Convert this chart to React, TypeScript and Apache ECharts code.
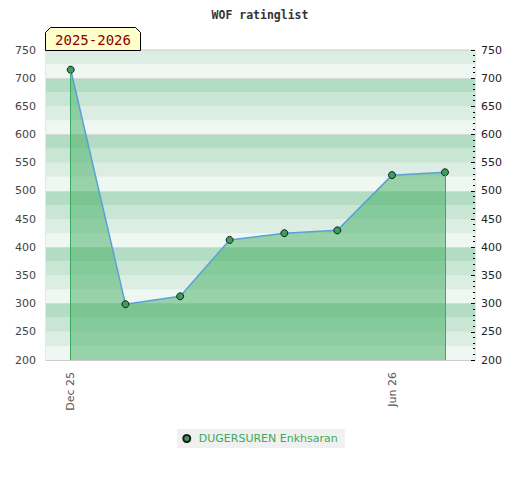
import React, { useEffect, useRef } from "react";
import * as echarts from "echarts";

const dates = ["2025-12-01", "2026-01-01", "2026-02-01", "2026-03-01", "2026-04-01", "2026-05-01", "2026-06-01", "2026-07-01"];
const ratings = [715, 299, 313, 413, 425, 430, 528, 533];
const xLabelDates = ["2025-12-01", "2026-06-01"];
const seriesName = "DUGERSUREN Enkhsaran";
const seasonLabel = "2025-2026";
const titleText = "WOF ratinglist";
const monthNames = ["Jan", "Feb", "Mar", "Apr", "May", "Jun", "Jul", "Aug", "Sep", "Oct", "Nov", "Dec"];

const toTs = (s: string) => {
  const [y, m, d] = s.split("-").map(Number);
  return Date.UTC(y, m - 1, d);
};

export default function App() {
  const ref = useRef<HTMLDivElement>(null);
  useEffect(() => {
    document.body.style.margin = "0";
    if (!ref.current) return;
    const chart = echarts.init(ref.current, undefined, { renderer: "svg" });
    const data = dates.map((d, i) => [toTs(d), ratings[i]]);
    const yMin = 200;
    const yMax = 750;
    const first = data[0];
    const last = data[data.length - 1];
    const axisFont = { fontFamily: "DejaVu Sans", fontSize: 11 };
    chart.setOption({
      animation: false,
      title: {
        text: titleText,
        left: "center",
        top: 4,
        textStyle: { fontFamily: "DejaVu Sans Mono", fontWeight: "bold", fontSize: 11.5, color: "#333" },
      },
      grid: { left: 46, right: 45, top: 50, bottom: 120, show: true, borderColor: "#ccc", borderWidth: 1 },
      legend: {
        top: 429,
        left: "center",
        backgroundColor: "#f0f0f0",
        padding: [4, 7, 4, 5],
        icon: "circle",
        itemWidth: 14,
        itemHeight: 7,
        textStyle: { color: "#3aaa5c", fontFamily: "DejaVu Sans", fontSize: 11 },
        data: [seriesName],
      },
      xAxis: {
        type: "value",
        min: toTs("2025-11-17"),
        max: toTs("2026-07-18"),
        axisLine: { show: true, lineStyle: { color: "#ccc" } },
        axisTick: { show: false },
        splitLine: { show: false },
        axisLabel: {
          ...axisFont,
          color: "#555",
          rotate: 90,
          margin: 12,
          customValues: xLabelDates.map(toTs),
          formatter: (v: number) => {
            const d = new Date(v);
            return monthNames[d.getUTCMonth()] + " " + String(d.getUTCFullYear()).slice(2);
          },
        },
      },
      yAxis: [
        {
          type: "value",
          min: yMin,
          max: yMax,
          interval: 25,
          position: "left",
          axisLine: { show: false },
          axisTick: { show: false },
          splitLine: { show: false },
          splitArea: { show: true, areaStyle: { color: ["#eff7f2", "#dcede3", "#c8e6d3", "#b3dcc4"] } },
          axisLabel: {
            ...axisFont,
            color: "#444",
            margin: 10,
            formatter: (v: number) => (v % 50 === 0 ? String(v) : ""),
          },
        },
        {
          type: "value",
          min: yMin,
          max: yMax,
          interval: 50,
          position: "right",
          axisLine: { show: false },
          axisTick: { show: true, inside: true, length: 4, lineStyle: { color: "#000" } },
          minorTick: { show: true, splitNumber: 5, length: 2, lineStyle: { color: "#000" } },
          splitLine: { show: false },
          axisLabel: { ...axisFont, color: "#222", margin: 6 },
        },
        {
          type: "value",
          min: yMin,
          max: yMax,
          interval: 100,
          position: "left",
          axisLine: { show: false },
          axisTick: { show: false },
          axisLabel: { show: false },
          splitLine: { show: true, lineStyle: { color: "#d8d8d8", width: 1 } },
        },
      ],
      series: [
        {
          name: seriesName,
          type: "line",
          yAxisIndex: 0,
          data,
          symbol: "circle",
          symbolSize: 7,
          itemStyle: { color: "#3a9e5c", borderColor: "#1a1a1a", borderWidth: 1 },
          lineStyle: { color: "#5ba0d8", width: 1.5 },
          areaStyle: { color: "rgba(71,177,101,0.52)", opacity: 1, origin: "start" },
          markLine: {
            silent: true,
            symbol: "none",
            label: { show: false },
            lineStyle: { type: "solid", color: "#3aaa5c", width: 1 },
            data: [
              [{ coord: [first[0], first[1]] }, { coord: [first[0], yMin] }],
              [{ coord: [last[0], last[1]] }, { coord: [last[0], yMin] }],
            ],
          },
        },
      ],
      graphic: [
        {
          type: "polygon",
          z: 100,
          shape: {
            points: [
              [45.5, 50.5],
              [45.5, 32.5],
              [50.5, 27.5],
              [135.5, 27.5],
              [140.5, 32.5],
              [140.5, 50.5],
            ],
          },
          style: { fill: "#ffffcc", stroke: "#000", lineWidth: 1 },
        },
        {
          type: "text",
          z: 101,
          x: 93,
          y: 40,
          style: {
            text: seasonLabel,
            font: "14px 'DejaVu Sans Mono'",
            fill: "#8b0000",
            textAlign: "center",
            textVerticalAlign: "middle",
          },
        },
      ],
    });
    return () => chart.dispose();
  }, []);
  return <div ref={ref} style={{ width: 520, height: 480 }} />;
}
